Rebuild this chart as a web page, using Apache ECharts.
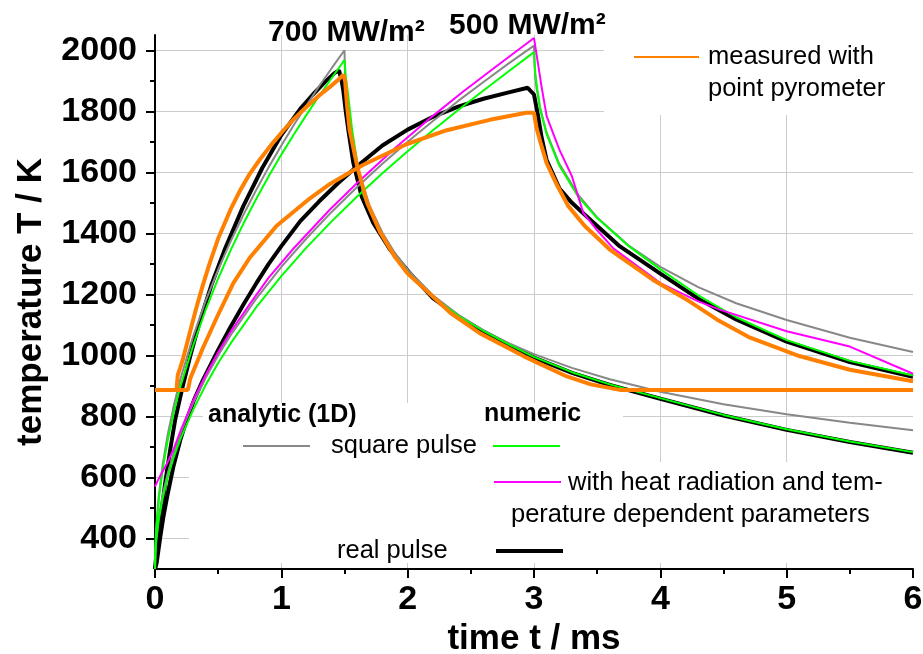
<!DOCTYPE html>
<html><head><meta charset="utf-8">
<script src="https://cdn.jsdelivr.net/npm/echarts@6/dist/echarts.min.js"></script>
<style>html,body{margin:0;padding:0;background:#fff}#c{width:923px;height:654px}</style>
</head><body><div id="c"></div>
<script>
// ---------- data (t in ms, T in K) ----------
const xLabel = 'time t / ms';
const yLabel = 'temperature T / K';
const yTickValues = [400, 600, 800, 1000, 1200, 1400, 1600, 1800, 2000];
const yMinorTickValues = [500, 700, 900, 1100, 1300, 1500, 1700, 1900];
const pulseLabels = ['700 MW/m\u00b2', '500 MW/m\u00b2'];

// 700 MW/m2, 1.5 ms pulse
const gray700 = [[0,300],[0.003,376],[0.01,439],[0.03,540],[0.06,640],[0.1,739],[0.15,838],[0.2,921],[0.3,1060],[0.4,1178],[0.5,1281],[0.6,1375],[0.7,1461],[0.8,1541],[0.9,1617],[1.0,1688],[1.1,1756],[1.2,1820],[1.3,1883],[1.4,1942],[1.5,2000],[1.505,1905],[1.51,1867],[1.52,1815],[1.55,1718],[1.6,1617],[1.7,1489],[1.8,1402],[1.9,1335],[2.0,1281],[2.2,1197],[2.4,1133],[2.6,1082],[2.8,1040],[3.0,1004],[3.3,959],[3.6,922],[4.0,881],[4.5,840],[5.0,807],[5.5,779],[6.0,755]];
const green700 = [[0,300],[0.003,372],[0.01,430],[0.03,528],[0.06,625],[0.1,720],[0.15,815],[0.2,897],[0.3,1030],[0.4,1148],[0.5,1252],[0.6,1346],[0.7,1432],[0.8,1512],[0.9,1587],[1.0,1658],[1.1,1725],[1.2,1789],[1.3,1851],[1.4,1910],[1.5,1968],[1.51,1915],[1.53,1850],[1.56,1740],[1.6,1635],[1.65,1525],[1.7,1475],[1.8,1392],[1.9,1326],[2.0,1272],[2.2,1190],[2.4,1130],[2.6,1080],[2.8,1036],[3.0,995],[3.3,945],[3.6,905],[4.0,860],[4.5,805],[5.0,758],[5.5,718],[6.0,683]];
const black700 = [[0,300],[0.02,385],[0.05,480],[0.08,580],[0.12,690],[0.16,790],[0.22,900],[0.28,1000],[0.35,1105],[0.45,1235],[0.55,1345],[0.7,1490],[0.85,1615],[1.0,1722],[1.15,1808],[1.25,1855],[1.35,1898],[1.42,1925],[1.457,1934],[1.475,1905],[1.49,1870],[1.51,1800],[1.53,1740],[1.57,1631],[1.636,1521],[1.728,1434],[1.86,1347],[2.02,1268],[2.2,1188],[2.4,1128],[2.6,1078],[2.8,1034],[3.0,993],[3.3,943],[3.6,903],[4.0,858],[4.5,803],[5.0,756],[5.5,716],[6.0,681]];
const orange700 = [[0,887],[0.17,887],[0.18,935],[0.2,960],[0.224,992],[0.26,1050],[0.29,1098],[0.33,1160],[0.38,1232],[0.435,1305],[0.5,1383],[0.6,1480],[0.673,1540],[0.75,1595],[0.83,1642],[0.92,1690],[1.016,1737],[1.1,1775],[1.2,1815],[1.3,1852],[1.385,1880],[1.46,1907],[1.49,1920],[1.505,1900],[1.52,1820],[1.54,1740],[1.6,1620],[1.68,1500],[1.78,1405],[1.9,1322],[2.0,1268],[2.18,1200],[2.34,1139],[2.57,1073],[2.92,997],[3.26,931],[3.45,905],[3.68,887],[6.0,887]];

// 500 MW/m2, 3 ms pulse
const gray500 = [[0,300],[0.003,354],[0.01,399],[0.03,471],[0.06,542],[0.1,613],[0.15,683],[0.2,743],[0.3,842],[0.4,926],[0.5,1000],[0.6,1067],[0.8,1185],[1.0,1290],[1.2,1384],[1.4,1471],[1.6,1552],[1.8,1628],[2.0,1700],[2.2,1768],[2.4,1834],[2.6,1896],[2.8,1957],[3.0,2015],[3.005,1945],[3.01,1916],[3.02,1877],[3.05,1808],[3.1,1730],[3.2,1628],[3.35,1526],[3.5,1452],[3.75,1360],[4.0,1290],[4.3,1224],[4.6,1171],[5.0,1116],[5.5,1058],[6.0,1011]];
const green500 = [[0,300],[0.003,352],[0.01,394],[0.03,462],[0.06,530],[0.1,600],[0.15,668],[0.2,725],[0.3,820],[0.4,902],[0.5,975],[0.6,1040],[0.8,1157],[1.0,1260],[1.2,1354],[1.4,1440],[1.6,1521],[1.8,1597],[2.0,1669],[2.2,1738],[2.4,1804],[2.6,1868],[2.8,1931],[3.0,1994],[3.01,1925],[3.02,1890],[3.05,1805],[3.1,1725],[3.2,1622],[3.35,1520],[3.5,1450],[3.75,1358],[4.0,1282],[4.3,1197],[4.6,1125],[5.0,1050],[5.5,982],[6.0,934]];
const magenta500 = [[0,570],[0.02,588],[0.05,612],[0.1,650],[0.15,695],[0.2,750],[0.3,850],[0.4,935],[0.5,1010],[0.6,1078],[0.75,1168],[0.9,1255],[1.1,1352],[1.385,1478],[1.6,1565],[1.91,1683],[2.2,1785],[2.44,1865],[2.7,1947],[3.0,2040],[3.03,1960],[3.06,1880],[3.1,1784],[3.2,1675],[3.3,1587],[3.39,1467],[3.5,1410],[3.63,1350],[4.0,1237],[4.3,1177],[4.47,1150],[5.0,1079],[5.5,1029],[6.0,940]];
const black500 = [[0,300],[0.013,320],[0.04,400],[0.066,470],[0.1,545],[0.145,635],[0.2,722],[0.25,788],[0.31,855],[0.38,920],[0.5,1018],[0.6,1095],[0.7,1167],[0.8,1235],[0.9,1300],[1.0,1358],[1.15,1440],[1.3,1505],[1.45,1565],[1.6,1620],[1.8,1688],[2.0,1740],[2.2,1782],[2.4,1815],[2.6,1841],[2.8,1862],[2.95,1877],[3.0,1855],[3.03,1790],[3.06,1715],[3.1,1640],[3.2,1548],[3.3,1500],[3.4,1462],[3.68,1357],[4.0,1268],[4.3,1186],[4.6,1118],[5.0,1045],[5.5,978],[6.0,930]];
const orange500 = [[0,887],[0.26,887],[0.28,925],[0.32,965],[0.38,1025],[0.49,1125],[0.62,1237],[0.75,1320],[0.963,1425],[1.227,1515],[1.385,1562],[1.544,1600],[1.65,1625],[1.99,1692],[2.31,1738],[2.65,1772],[2.94,1795],[3.0,1795],[3.02,1745],[3.05,1700],[3.1,1630],[3.18,1560],[3.27,1490],[3.4,1425],[3.6,1347],[3.94,1248],[4.2,1185],[4.45,1117],[4.7,1060],[5.1,998],[5.5,953],[6.0,915]];

// ---------- chart ----------
const FONT = 'Liberation Sans, Arial, Helvetica, sans-serif';
const C = {gray:'#888888', green:'#00ff00', black:'#000000', magenta:'#ff00ff', orange:'#ff8000'};

function line(name, data, color, width, z) {
  return {name, type:'line', data, showSymbol:false, symbol:'none', z,
    lineStyle:{color, width}, itemStyle:{color}, animation:false, silent:true, clip:true};
}

const chart = echarts.init(document.getElementById('c'), null, {renderer:'canvas'});
chart.setOption({
  backgroundColor:'#ffffff',
  animation:false,
  grid:{left:155, right:10, top:35, bottom:85, containLabel:false, outerBoundsMode:'none'},
  xAxis:{type:'value', min:0, max:6, interval:1,
    name:xLabel, nameLocation:'middle', nameGap:44,
    nameTextStyle:{fontFamily:FONT, fontWeight:'bold', fontSize:35, color:'#000'},
    axisLine:{show:true, onZero:false, lineStyle:{color:'#000', width:2}},
    axisTick:{show:true, inside:false, length:9, lineStyle:{color:'#000', width:2}},
    minorTick:{show:true, splitNumber:2, length:5, lineStyle:{color:'#000', width:2}},
    axisLabel:{fontFamily:FONT, fontWeight:'bold', fontSize:34, color:'#000', margin:14,
      formatter:function(v){return String(v);}},
    splitLine:{show:true, showMinLine:false, showMaxLine:false, lineStyle:{color:'#cccccc', width:1}}
  },
  yAxis:[{type:'value', min:300, max:2050, position:'left',
    name:yLabel, nameLocation:'middle', nameGap:106, nameRotate:90,
    nameTextStyle:{fontFamily:FONT, fontWeight:'bold', fontSize:35, color:'#000'},
    axisLine:{show:true, onZero:false, lineStyle:{color:'#000', width:2}},
    axisTick:{show:true, inside:false, length:9, customValues:yTickValues, lineStyle:{color:'#000', width:2}},
    axisLabel:{customValues:yTickValues, fontFamily:FONT, fontWeight:'bold', fontSize:34, color:'#000', margin:18,
      formatter:function(v){return String(v);}},
    splitLine:{show:true, lineStyle:{color:'#cccccc', width:1}}
  },{type:'value', min:300, max:2050, position:'left', offset:0,
    axisLine:{show:false},
    axisTick:{show:true, inside:false, length:5, customValues:yMinorTickValues, lineStyle:{color:'#000', width:2}},
    axisLabel:{show:false}, splitLine:{show:false}
  }],
  series:[
    line('real pulse 700', black700, C.black, 4, 2),
    line('real pulse 500', black500, C.black, 4, 2),
    line('analytic 700', gray700, C.gray, 2, 3),
    line('analytic 500', gray500, C.gray, 2, 3),
    line('numeric 700', green700, C.green, 2, 4),
    line('numeric 500', green500, C.green, 2, 4),
    line('radiation 500', magenta500, C.magenta, 2, 5),
    line('measured 700', orange700, C.orange, 4, 6),
    line('measured 500', orange500, C.orange, 4, 6)
  ],
  graphic:[
    {type:'rect', z:1, silent:true, shape:{x:604, y:35, width:309, height:80}, style:{fill:'#fff'}},
    {type:'rect', z:1, silent:true, shape:{x:203, y:403, width:420, height:160}, style:{fill:'#fff'}},
    {type:'rect', z:1, silent:true, shape:{x:189, y:462, width:724, height:101}, style:{fill:'#fff'}},
    {type:'text', z:10, x:268, y:33, style:{text:pulseLabels[0], font:'bold 30px '+FONT, fill:'#000', textVerticalAlign:'middle'}},
    {type:'text', z:10, x:449, y:26, style:{text:pulseLabels[1], font:'bold 30px '+FONT, fill:'#000', textVerticalAlign:'middle'}},
    {type:'line', z:10, shape:{x1:634, y1:57, x2:699, y2:57}, style:{stroke:C.orange, lineWidth:2}},
    {type:'text', z:10, x:708, y:57, style:{text:'measured with', font:'25.5px '+FONT, fill:'#000', textVerticalAlign:'middle'}},
    {type:'text', z:10, x:708, y:89, style:{text:'point pyrometer', font:'25.5px '+FONT, fill:'#000', textVerticalAlign:'middle'}},
    {type:'text', z:10, x:208, y:415, style:{text:'analytic (1D)', font:'bold 25px '+FONT, fill:'#000', textVerticalAlign:'middle'}},
    {type:'text', z:10, x:484, y:414, style:{text:'numeric', font:'bold 25px '+FONT, fill:'#000', textVerticalAlign:'middle'}},
    {type:'line', z:10, shape:{x1:243, y1:446, x2:310, y2:446}, style:{stroke:C.gray, lineWidth:2}},
    {type:'text', z:10, x:331, y:446, style:{text:'square pulse', font:'25.5px '+FONT, fill:'#000', textVerticalAlign:'middle'}},
    {type:'line', z:10, shape:{x1:493, y1:446, x2:560, y2:446}, style:{stroke:C.green, lineWidth:2}},
    {type:'line', z:10, shape:{x1:494, y1:482, x2:561, y2:482}, style:{stroke:C.magenta, lineWidth:2}},
    {type:'text', z:10, x:568, y:483, style:{text:'with heat radiation and tem-', font:'25.5px '+FONT, fill:'#000', textVerticalAlign:'middle'}},
    {type:'text', z:10, x:511, y:515, style:{text:'perature dependent parameters', font:'25.5px '+FONT, fill:'#000', textVerticalAlign:'middle'}},
    {type:'text', z:10, x:337, y:551, style:{text:'real pulse', font:'25.5px '+FONT, fill:'#000', textVerticalAlign:'middle'}},
    {type:'line', z:10, shape:{x1:496, y1:551, x2:563, y2:551}, style:{stroke:C.black, lineWidth:4}}
  ]
});
</script></body></html>
